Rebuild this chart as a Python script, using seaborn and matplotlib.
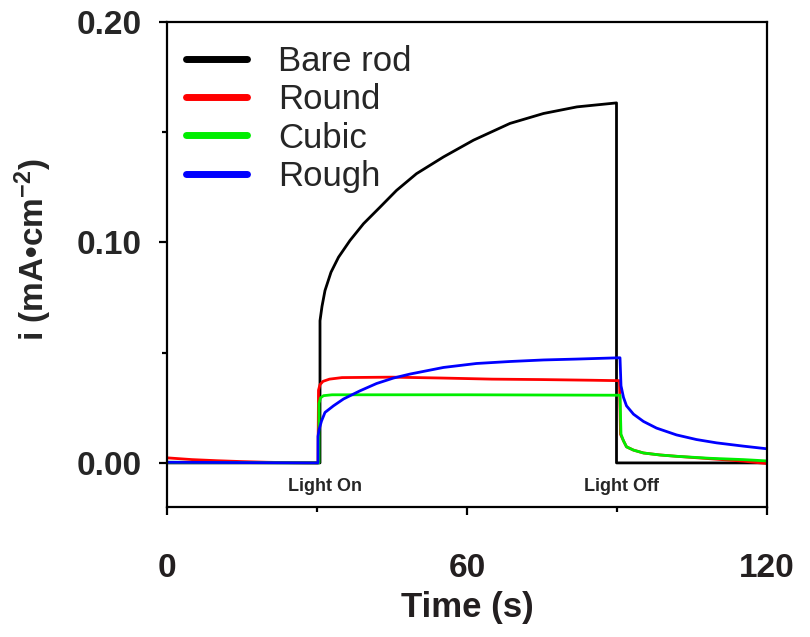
import numpy as np
import pandas as pd
import seaborn as sns
import matplotlib
matplotlib.use("Agg")
import matplotlib.pyplot as plt
from matplotlib.ticker import MultipleLocator

# ---- data ----
bare_t = [0, 10, 20, 30.6, 30.6, 31.0, 31.6, 32.8, 34.3, 36.6, 39.3, 42.6, 45.9, 49.9, 55.3,
          61.3, 68.6, 75.3, 82, 89.9, 89.9, 100, 110, 120]
bare_i = [0, 0, 0, 0, 0.0645, 0.071, 0.0782, 0.0865, 0.0933, 0.1009, 0.1085, 0.116, 0.1236,
          0.1312, 0.1388, 0.1464, 0.154, 0.1585, 0.1615, 0.1633, 0.0, 0.0, 0.0, 0.0]

round_t = [0, 5, 10, 15, 20, 25, 30.2, 30.3, 30.6, 31.2, 32.5, 35, 45, 55, 65, 75, 85, 90.5,
           90.7, 91.3, 91.9, 93.3, 95.3, 98.6, 101.9, 108.6, 115.3, 120]
round_i = [0.0023, 0.0015, 0.001, 0.0006, 0.0003, 0.0001, 0.0, 0.033, 0.0355, 0.037, 0.038,
           0.0387, 0.0389, 0.0385, 0.038, 0.0378, 0.0375, 0.0373, 0.013, 0.0100, 0.0073,
           0.0058, 0.0045, 0.0036, 0.003, 0.0019, 0.0008, -0.0003]

cubic_t = [0, 30.4, 30.4, 30.7, 31.3, 33, 60, 90.6, 90.8, 91.3, 91.9, 93.3, 95.3, 98.6,
           101.9, 108.6, 115.3, 120]
cubic_i = [0.0003, 0.0, 0.027, 0.0295, 0.0305, 0.0309, 0.0309, 0.0307, 0.013, 0.0100, 0.0073,
           0.0058, 0.0045, 0.0036, 0.003, 0.0021, 0.0015, 0.0009]

rough_t = [0, 30.2, 30.2, 30.4, 30.9, 31.6, 33.3, 35.3, 38.6, 41.9, 45.3, 48.6, 55.3, 61.9,
           68.6, 75.3, 81.9, 90.6, 90.8, 91.3, 91.9, 93.3, 95.3, 97.9, 101.9, 105.9, 109.9,
           115.3, 120]
rough_i = [0.0003, 0.0, 0.012, 0.015, 0.019, 0.0229, 0.0259, 0.029, 0.0327, 0.036, 0.0385,
           0.0403, 0.0433, 0.0451, 0.046, 0.0467, 0.0471, 0.0477, 0.035, 0.0297, 0.0259,
           0.0221, 0.0188, 0.0158, 0.0127, 0.0106, 0.0091, 0.0076, 0.0064]

series_names = ["Bare rod", "Round", "Cubic", "Rough"]
series_colors = ["#000000", "#ff0000", "#00ee00", "#0000ff"]

x_ticks = [0, 60, 120]
y_ticks = [0.00, 0.10, 0.20]
y_tick_labels = ["0.00", "0.10", "0.20"]
annotations = [("Light On", 31.6), ("Light Off", 90.9)]

frames = []
for name, t, i in zip(series_names,
                      [bare_t, round_t, cubic_t, rough_t],
                      [bare_i, round_i, cubic_i, rough_i]):
    frames.append(pd.DataFrame({"t": t, "i": i, "series": name}))
df = pd.concat(frames, ignore_index=True)

sns.set_style("ticks")
plt.rcParams["font.family"] = ["Liberation Sans", "DejaVu Sans"]
plt.rcParams["mathtext.fontset"] = "custom"
plt.rcParams["mathtext.bf"] = "Liberation Sans:bold"
plt.rcParams["mathtext.rm"] = "Liberation Sans:bold"
plt.rcParams["mathtext.default"] = "bf"

fig = plt.figure(figsize=(8.1, 6.37), dpi=100)
ax = fig.add_axes([167 / 810, 1 - 507 / 637, 600 / 810, 485 / 637])

sns.lineplot(data=df, x="t", y="i", hue="series", hue_order=series_names,
             palette=dict(zip(series_names, series_colors)),
             estimator=None, sort=False, units="series", linewidth=2.0, ax=ax)

ax.set_xlim(0, 120)
ax.set_ylim(-0.02, 0.20)
ax.set_xticks(x_ticks)
ax.set_xticklabels([str(v) for v in x_ticks])
ax.set_yticks(y_ticks)
ax.set_yticklabels(y_tick_labels)
ax.xaxis.set_minor_locator(MultipleLocator(30))
ax.yaxis.set_minor_locator(MultipleLocator(0.05))

for s in ax.spines.values():
    s.set_visible(True)
    s.set_linewidth(1.6)
    s.set_color("black")

ax.tick_params(which="major", direction="out", length=6, width=1.6, color="black")
ax.tick_params(which="minor", direction="out", length=3.5, width=1.6, color="black")
ax.tick_params(axis="y", which="major", pad=12)
ax.tick_params(axis="x", which="major", pad=27)

for lab in ax.get_yticklabels():
    lab.set_fontsize(24)
    lab.set_fontweight("bold")
for lab in ax.get_xticklabels():
    lab.set_fontsize(24)
    lab.set_fontweight("bold")
    lab.set_color("#231f20")

ax.set_xlabel("Time (s)", fontsize=25, fontweight="bold", color="#231f20", labelpad=5)
ax.set_ylabel(r"i (mA•cm$^{-2}$)", fontsize=24, fontweight="bold")
ax.yaxis.set_label_coords(-0.188, 0.53)

for txt, tx in annotations:
    ax.text(tx, -0.0105, txt, fontsize=13, fontweight="bold", ha="center", va="center")

leg = ax.legend(loc="upper left", bbox_to_anchor=(0.032, 0.953), frameon=False,
                fontsize=25, handlelength=1.75, handletextpad=0.9, labelspacing=0.155,
                borderpad=0, borderaxespad=0)
for h in leg.get_lines():
    h.set_linewidth(5)

fig.savefig("out.png", dpi=100)
